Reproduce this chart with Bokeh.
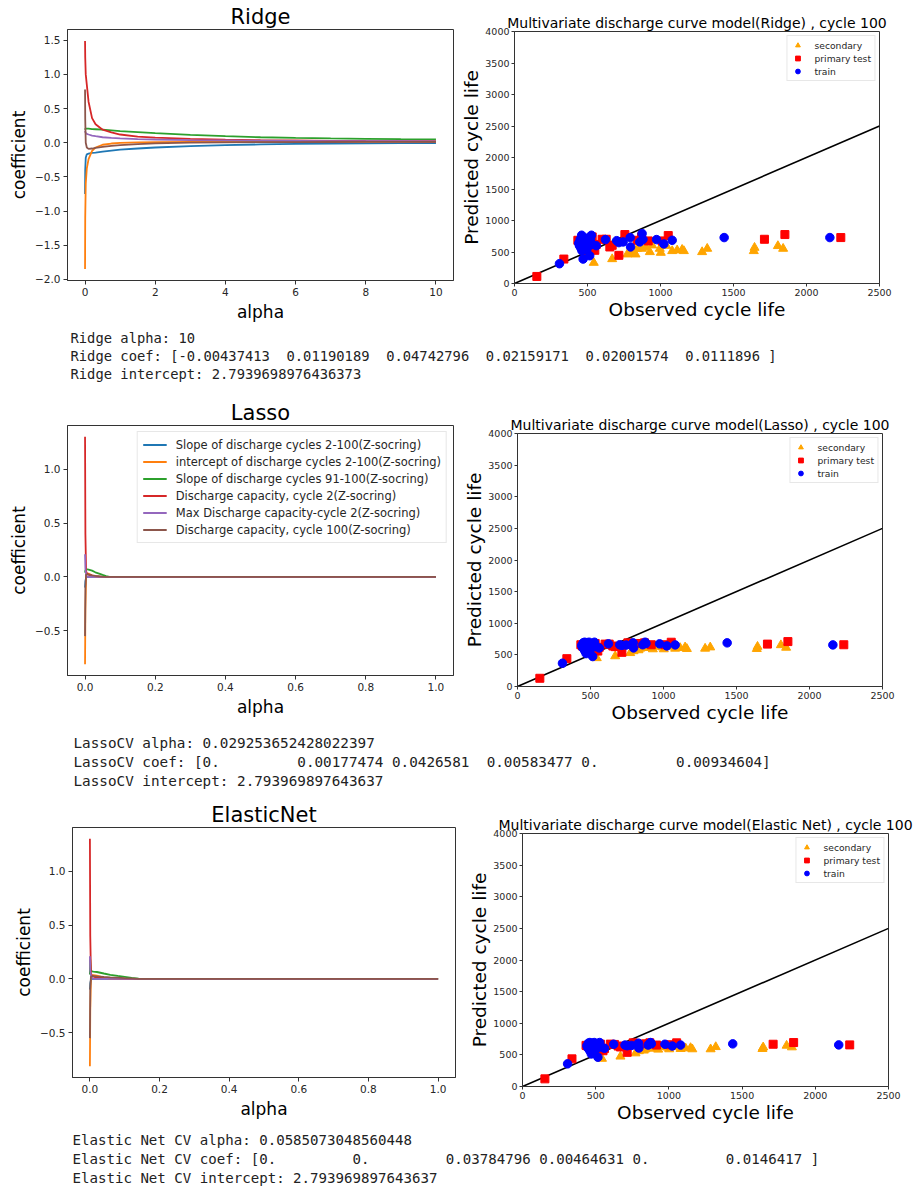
from bokeh.plotting import figure
from bokeh.layouts import column, row
from bokeh.models import Range1d, FixedTicker
from bokeh.embed import file_html
from bokeh.resources import INLINE
from bokeh.core.properties import value

# ---------------------------------------------------------------- features
FEATURES = [
    "Slope of discharge cycles 2-100(Z-socring)",
    "intercept of discharge cycles 2-100(Z-socring)",
    "Slope of discharge cycles 91-100(Z-socring)",
    "Discharge capacity, cycle 2(Z-socring)",
    "Max Discharge capacity-cycle 2(Z-socring)",
    "Discharge capacity, cycle 100(Z-socring)",
]
COLORS = ["#1f77b4", "#ff7f0e", "#2ca02c", "#d62728", "#9467bd", "#8c564b"]

# ---------------------------------------------------------------- Ridge path
ridge_alphas = [0.0, 0.005, 0.02, 0.05, 0.1, 0.2, 0.3, 0.5, 0.75, 1.0,
                1.5, 2.0, 3.0, 4.0, 5.0, 6.0, 7.0, 8.0, 9.0, 10.0]
ridge_slope_2_100 = [-0.75, -0.40, -0.22, -0.17, -0.16, -0.15, -0.145, -0.13, -0.115, -0.10,
                     -0.085, -0.07, -0.05, -0.035, -0.025, -0.018, -0.012, -0.009, -0.006, -0.00437413]
ridge_intercept_2_100 = [-1.85, -1.10, -0.60, -0.38, -0.24, -0.12, -0.07, -0.03, -0.012, -0.003,
                         0.004, 0.007, 0.010, 0.011, 0.012, 0.012, 0.012, 0.012, 0.012, 0.01190189]
ridge_slope_91_100 = [0.19, 0.20, 0.205, 0.205, 0.205, 0.20, 0.197, 0.19, 0.18, 0.17,
                      0.155, 0.14, 0.115, 0.095, 0.08, 0.07, 0.062, 0.056, 0.051, 0.04742796]
ridge_cap_2 = [1.49, 1.25, 1.0, 0.85, 0.6, 0.36, 0.27, 0.19, 0.15, 0.12,
               0.09, 0.075, 0.055, 0.045, 0.037, 0.032, 0.028, 0.025, 0.023, 0.02159171]
ridge_max_minus_2 = [0.17, 0.16, 0.145, 0.13, 0.12, 0.105, 0.095, 0.08, 0.07, 0.063,
                     0.053, 0.047, 0.038, 0.033, 0.029, 0.026, 0.024, 0.022, 0.021, 0.02001574]
ridge_cap_100 = [0.78, 0.35, 0.0, -0.07, -0.09, -0.085, -0.075, -0.06, -0.045, -0.035,
                 -0.02, -0.01, 0.0, 0.005, 0.008, 0.009, 0.010, 0.011, 0.011, 0.0111896]

# ---------------------------------------------------------------- Lasso path
lasso_alphas = [0.0, 0.001, 0.003, 0.006, 0.01, 0.02, 0.029253652428022397, 0.04, 0.05,
                0.06, 0.07, 0.1, 0.2, 0.4, 0.6, 0.8, 1.0]
lasso_slope_2_100 = [-0.10, -0.04, -0.01, 0.0, 0.0, 0.0, 0.0, 0.0, 0.0, 0.0, 0.0, 0.0, 0.0, 0.0, 0.0, 0.0, 0.0]
lasso_intercept_2_100 = [-0.81, -0.30, 0.02, 0.03, 0.03, 0.015, 0.00177474, 0.0, 0.0, 0.0, 0.0, 0.0, 0.0, 0.0, 0.0, 0.0, 0.0]
lasso_slope_91_100 = [0.04, 0.06, 0.07, 0.07, 0.068, 0.058, 0.0426581, 0.03, 0.018, 0.007, 0.0, 0.0, 0.0, 0.0, 0.0, 0.0, 0.0]
lasso_cap_2 = [1.30, 0.40, 0.05, 0.03, 0.02, 0.012, 0.00583477, 0.002, 0.0, 0.0, 0.0, 0.0, 0.0, 0.0, 0.0, 0.0, 0.0]
lasso_max_minus_2 = [0.21, 0.08, 0.02, 0.0, 0.0, 0.0, 0.0, 0.0, 0.0, 0.0, 0.0, 0.0, 0.0, 0.0, 0.0, 0.0, 0.0]
lasso_cap_100 = [-0.55, -0.10, 0.02, 0.025, 0.02, 0.014, 0.00934604, 0.006, 0.003, 0.001, 0.0, 0.0, 0.0, 0.0, 0.0, 0.0, 0.0]

# ---------------------------------------------------------------- ElasticNet path
enet_alphas = [0.0, 0.001, 0.003, 0.006, 0.01, 0.02, 0.04, 0.0585073048560448, 0.08, 0.1,
               0.12, 0.14, 0.15, 0.2, 0.4, 0.6, 0.8, 1.0]
enet_slope_2_100 = [-0.10, -0.04, -0.01, 0.0, 0.0, 0.0, 0.0, 0.0, 0.0, 0.0, 0.0, 0.0, 0.0, 0.0, 0.0, 0.0, 0.0, 0.0]
enet_intercept_2_100 = [-0.81, -0.30, 0.02, 0.03, 0.035, 0.03, 0.012, 0.0, 0.0, 0.0, 0.0, 0.0, 0.0, 0.0, 0.0, 0.0, 0.0, 0.0]
enet_slope_91_100 = [0.04, 0.18, 0.08, 0.07, 0.068, 0.064, 0.05, 0.03784796, 0.027, 0.018, 0.009, 0.002, 0.0, 0.0, 0.0, 0.0, 0.0, 0.0]
enet_cap_2 = [1.30, 0.40, 0.05, 0.03, 0.02, 0.012, 0.007, 0.00464631, 0.003, 0.001, 0.0, 0.0, 0.0, 0.0, 0.0, 0.0, 0.0, 0.0]
enet_max_minus_2 = [0.21, 0.08, 0.03, 0.01, 0.0, 0.0, 0.0, 0.0, 0.0, 0.0, 0.0, 0.0, 0.0, 0.0, 0.0, 0.0, 0.0, 0.0]
enet_cap_100 = [-0.55, -0.10, 0.02, 0.025, 0.025, 0.022, 0.018, 0.0146417, 0.011, 0.007, 0.004, 0.001, 0.0, 0.0, 0.0, 0.0, 0.0, 0.0]

# ---------------------------------------------------------------- cycle life predictions
train_obs = [308, 440, 445, 450, 455, 460, 462, 465, 470, 472, 478, 480, 485, 490, 495, 500, 505, 510, 515,
             520, 527, 535, 560, 623, 700, 715, 744, 792, 795, 858, 874, 880, 973, 1023, 1080, 1436, 2160]
train_ridge = [314, 640, 600, 700, 560, 766, 520, 660, 388, 620, 700, 580, 660, 720, 540, 640, 690, 600, 441,
               700, 766, 620, 600, 697, 680, 649, 660, 729, 580, 660, 793, 700, 697, 628, 686, 729, 729]
train_lasso = [368, 650, 620, 690, 590, 700, 560, 660, 520, 630, 690, 600, 660, 700, 570, 650, 680, 620, 474,
               680, 700, 630, 610, 674, 660, 650, 655, 690, 610, 660, 700, 680, 674, 642, 658, 690, 658]
train_enet = [358, 645, 615, 685, 585, 695, 560, 655, 515, 625, 685, 598, 655, 695, 568, 645, 675, 615, 463,
              675, 695, 625, 605, 668, 655, 645, 650, 685, 608, 655, 695, 675, 668, 640, 655, 674, 658]

primary_obs = [153, 338, 434, 445, 470, 490, 500, 532, 550, 560, 600, 628, 653, 669, 715, 756, 840, 870,
               916, 1011, 1053, 1712, 1852, 2235]
primary_ridge = [112, 388, 686, 650, 600, 710, 480, 740, 527, 620, 702, 702, 580, 606, 447, 777, 686, 740,
                 676, 676, 761, 702, 777, 729]
primary_lasso = [130, 440, 660, 640, 610, 670, 560, 680, 560, 620, 670, 670, 640, 630, 540, 690, 680, 690,
                 660, 660, 700, 670, 710, 660]
primary_enet = [121, 437, 650, 640, 600, 660, 560, 670, 565, 600, 670, 665, 640, 625, 540, 690, 675, 690,
                655, 660, 690, 668, 695, 658]

secondary_obs = [543, 669, 772, 795, 810, 829, 840, 874, 900, 927, 943, 995, 1002, 1040, 1080, 1114, 1148,
                 1160, 1285, 1320, 1639, 1644, 1804, 1840]
secondary_ridge = [330, 388, 463, 484, 530, 463, 553, 553, 580, 500, 606, 553, 489, 600, 516, 527, 537,
                   516, 500, 553, 516, 569, 596, 553]
secondary_lasso = [450, 480, 530, 560, 590, 575, 600, 610, 620, 590, 630, 620, 590, 630, 600, 610, 620,
                   595, 600, 620, 595, 630, 655, 615]
secondary_enet = [440, 475, 526, 560, 580, 570, 590, 600, 615, 585, 625, 615, 590, 625, 595, 605, 610,
                  590, 590, 625, 595, 620, 647, 621]

ideal_x = [0, 2500]
ideal_y = [0, 2500]

ridge_report = ["Ridge alpha: 10",
                "Ridge coef: [-0.00437413  0.01190189  0.04742796  0.02159171  0.02001574  0.0111896 ]",
                "Ridge intercept: 2.7939698976436373"]
lasso_report = ["LassoCV alpha: 0.029253652428022397",
                "LassoCV coef: [0.         0.00177474 0.0426581  0.00583477 0.         0.00934604]",
                "LassoCV intercept: 2.793969897643637"]
enet_report = ["Elastic Net CV alpha: 0.0585073048560448",
               "Elastic Net CV coef: [0.         0.         0.03784796 0.00464631 0.         0.0146417 ]",
               "Elastic Net CV intercept: 2.793969897643637"]

FONT = "DejaVu Sans"
MONO = "DejaVu Sans Mono"
DARK = "#333333"


def padded(lo, hi, frac=0.05):
    span = hi - lo
    return lo - frac * span, hi + frac * span


def style(p, tick_px, label_px, tick_out=4, label_standoff=3, axis_standoff=3):
    p.grid.visible = False
    p.outline_line_color = DARK
    p.outline_line_width = 1
    for ax in (p.xaxis[0], p.yaxis[0]):
        ax.axis_line_color = DARK
        ax.major_tick_line_color = DARK
        ax.major_tick_out = tick_out
        ax.major_tick_in = 0
        ax.minor_tick_line_color = None
        ax.major_label_text_font = FONT
        ax.major_label_text_font_size = tick_px
        ax.major_label_text_color = "#262626"
        ax.major_label_standoff = label_standoff
        ax.axis_label_text_font = FONT
        ax.axis_label_text_font_size = label_px
        ax.axis_label_text_font_style = "normal"
        ax.axis_label_text_color = "black"
        ax.axis_label_standoff = axis_standoff


def fmt(v, decimals):
    s = f"{v:.{decimals}f}"
    return s.replace("-", "\u2212")


def set_title(p, text, size):
    p.title.text = text
    p.title.align = "center"
    p.title.text_font = FONT
    p.title.text_font_size = size
    p.title.text_font_style = "normal"
    p.title.text_color = "black"
    p.title.standoff = 2


def coef_figure(title, alphas, paths, xticks, xdec, yticks, width, height, borders, legend=False):
    lo = min(min(c) for c in paths)
    hi = max(max(c) for c in paths)
    y0, y1 = padded(lo, hi)
    x0, x1 = padded(alphas[0], alphas[-1])
    left, right, top, bottom = borders
    p = figure(width=width, height=height, output_backend="svg", toolbar_location=None,
               x_range=Range1d(x0, x1), y_range=Range1d(y0, y1),
               min_border_left=left, min_border_right=right,
               min_border_top=top, min_border_bottom=bottom,
               x_axis_label="alpha", y_axis_label="coefficient")
    set_title(p, title, "21px")
    style(p, "10.5px", "17px")
    p.xaxis.ticker = FixedTicker(ticks=xticks)
    p.xaxis.major_label_overrides = {t: fmt(t, xdec) for t in xticks}
    p.yaxis.ticker = FixedTicker(ticks=yticks)
    p.yaxis.major_label_overrides = {t: fmt(t, 1) for t in yticks}
    for name, color, ys in zip(FEATURES, COLORS, paths):
        kw = dict(legend_label=name) if legend else {}
        p.line(alphas, ys, line_color=color, line_width=1.8, **kw)
    if legend:
        lg = p.legend[0]
        lg.location = "top_right"
        lg.margin = 6
        lg.padding = 5
        lg.spacing = 2
        lg.label_text_font = FONT
        lg.label_text_font_size = "11.5px"
        lg.label_text_color = "#262626"
        lg.label_height = 15
        lg.glyph_height = 15
        lg.glyph_width = 24
        lg.label_standoff = 9
        lg.border_line_color = "#d0d0d0"
        lg.background_fill_alpha = 0.85
    return p


def scatter_figure(title, preds, width, height, borders, legend_margin):
    left, right, top, bottom = borders
    p = figure(width=width, height=height, output_backend="svg", toolbar_location=None,
               x_range=Range1d(0, 2500), y_range=Range1d(0, 4000),
               min_border_left=left, min_border_right=right,
               min_border_top=top, min_border_bottom=bottom,
               x_axis_label="Observed cycle life", y_axis_label="Predicted cycle life")
    set_title(p, title, "14px")
    style(p, "9.5px", "18.5px", tick_out=3, label_standoff=2, axis_standoff=0)
    p.xaxis.ticker = FixedTicker(ticks=[0, 500, 1000, 1500, 2000, 2500])
    p.yaxis.ticker = FixedTicker(ticks=list(range(0, 4001, 500)))
    sec, prim, trn = preds
    p.line(ideal_x, ideal_y, line_color="black", line_width=1.6)
    p.scatter(secondary_obs, sec, marker="triangle", size=9, fill_color="orange",
              line_color="orange", legend_label="secondary")
    p.scatter(primary_obs, prim, marker="square", size=8, fill_color="red",
              line_color="red", legend_label="primary test")
    p.scatter(train_obs, trn, marker="circle", size=8.5, fill_color="blue",
              line_color="blue", legend_label="train")
    lg = p.legend[0]
    lg.location = "top_right"
    lg.margin = legend_margin
    lg.padding = 3
    lg.spacing = 1
    lg.label_text_font = FONT
    lg.label_text_font_size = "9.2px"
    lg.label_text_color = "#262626"
    lg.label_height = 12
    lg.glyph_height = 12
    lg.glyph_width = 14
    lg.label_standoff = 10
    lg.border_line_color = "#d0d0d0"
    lg.background_fill_alpha = 0.85
    return p


def report_figure(lines, height, x0, ys, size):
    p = figure(width=915, height=height, output_backend="svg", toolbar_location=None,
               x_range=Range1d(0, 915), y_range=Range1d(height, 0),
               x_axis_location=None, y_axis_location=None, min_border=0)
    p.grid.visible = False
    p.outline_line_color = None
    # keep numpy's column padding: plain spaces would be collapsed in SVG text
    shown = [s.replace(" ", "\u00a0") for s in lines]
    p.text(x=[x0] * len(lines), y=ys, text=shown, text_font=value(MONO),
           text_font_size=value(size), text_baseline="middle", text_color="#222222")
    return p


ridge_paths = [ridge_slope_2_100, ridge_intercept_2_100, ridge_slope_91_100,
               ridge_cap_2, ridge_max_minus_2, ridge_cap_100]
lasso_paths = [lasso_slope_2_100, lasso_intercept_2_100, lasso_slope_91_100,
               lasso_cap_2, lasso_max_minus_2, lasso_cap_100]
enet_paths = [enet_slope_2_100, enet_intercept_2_100, enet_slope_91_100,
              enet_cap_2, enet_max_minus_2, enet_cap_100]

ridge_coef = coef_figure("Ridge", ridge_alphas, ridge_paths, [0, 2, 4, 6, 8, 10], 0,
                         [-2.0, -1.5, -1.0, -0.5, 0.0, 0.5, 1.0, 1.5], 458, 325, (67, 5, 29, 45))
ridge_scatter = scatter_figure("Multivariate discharge curve model(Ridge) , cycle 100",
                               (secondary_ridge, primary_ridge, train_ridge), 457, 325, (56, 36, 31, 42), 4)

lasso_coef = coef_figure("Lasso", lasso_alphas, lasso_paths, [0.0, 0.2, 0.4, 0.6, 0.8, 1.0], 1,
                         [-0.5, 0.0, 0.5, 1.0], 458, 337, (67, 5, 32, 55), legend=True)
lasso_scatter = scatter_figure("Multivariate discharge curve model(Lasso) , cycle 100",
                               (secondary_lasso, primary_lasso, train_lasso), 457, 337, (59, 33, 40, 44), 4)

enet_coef = coef_figure("ElasticNet", enet_alphas, enet_paths, [0.0, 0.2, 0.4, 0.6, 0.8, 1.0], 1,
                        [-0.5, 0.0, 0.5, 1.0], 458, 330, (72, 3, 32, 48))
enet_scatter = scatter_figure("Multivariate discharge curve model(Elastic Net) , cycle 100",
                              (secondary_enet, primary_enet, train_enet), 457, 330, (64, 27, 38, 38), 4)

ridge_text = report_figure(ridge_report, 68, 70, [12, 30, 48], "13.8px")
lasso_text = report_figure(lasso_report, 65, 73, [12, 31, 50], "14.3px")
enet_text = report_figure(enet_report, 62, 72, [14, 33, 52], "14.1px")

# each plot sits in its own column so the row does not line up the two frames
page = column(row(column(ridge_coef), column(ridge_scatter)), ridge_text,
              row(column(lasso_coef), column(lasso_scatter)), lasso_text,
              row(column(enet_coef), column(enet_scatter)), enet_text)

with open("out.html", "w") as f:
    f.write(file_html(page, INLINE))
